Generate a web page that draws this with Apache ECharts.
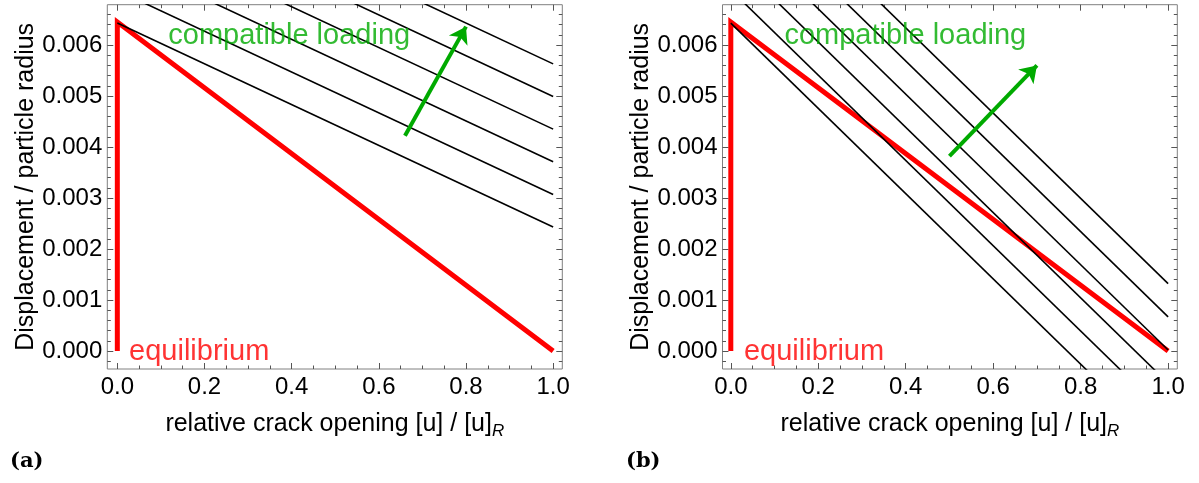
<!DOCTYPE html>
<html>
<head>
<meta charset="utf-8">
<script src="https://cdn.jsdelivr.net/npm/echarts@6/dist/echarts.min.js"></script>
<style>html,body{margin:0;padding:0;background:#fff;}#c{width:1199px;height:483px;}</style>
</head>
<body>
<div id="c"></div>
<script>
// ---- data ----
const xMajorTicks = [0, 0.2, 0.4, 0.6, 0.8, 1.0];
const xMinorTicks = [0.05, 0.1, 0.15, 0.25, 0.3, 0.35, 0.45, 0.5, 0.55, 0.65, 0.7, 0.75, 0.85, 0.9, 0.95];
const yMajorTicks = [0, 0.001, 0.002, 0.003, 0.004, 0.005, 0.006];
const yMinorTicks = [-0.0002, 0.0002, 0.0004, 0.0006, 0.0008, 0.0012, 0.0014, 0.0016, 0.0018,
  0.0022, 0.0024, 0.0026, 0.0028, 0.0032, 0.0034, 0.0036, 0.0038, 0.0042, 0.0044, 0.0046, 0.0048,
  0.0052, 0.0054, 0.0056, 0.0058, 0.0062, 0.0064, 0.0066];

const equilibriumX = [0, 0, 1];
const equilibriumY = [0, 0.00645, 0];

// loading lines: value at x=0 and x=1
const loadX = [0, 1];
const leftLoadStart = [0.00643, 0.00707, 0.00771, 0.00835, 0.00899, 0.00963];
const leftLoadEnd   = [0.00243, 0.00307, 0.00371, 0.00435, 0.00499, 0.00563];
const rightLoadStart = [0.00643, 0.00708, 0.00773, 0.00838, 0.00903, 0.00968];
const rightLoadEnd   = [-0.00193, -0.00128, -0.00063, 0.00002, 0.00067, 0.00132];

// arrows: [tail, tip]
const leftArrow = [[0.66, 0.00422], [0.80, 0.00636]];
const rightArrow = [[0.50, 0.00382], [0.70, 0.00560]];

// annotation anchors (left edge, vertical middle)
const leftNotes = [[0.117, 0.00618, 'compatible loading', '#00aa00'], [0.027, -0.00001, 'equilibrium', '#ff0000']];
const rightNotes = [[0.1225, 0.00618, 'compatible loading', '#00aa00'], [0.030, -0.00001, 'equilibrium', '#ff0000']];

const xTitle = '{a|relative crack opening [u] / [u]}{b|R}';
const yTitle = 'Displacement / particle radius';
const captions = ['(a)', '(b)'];

// ---- layout ----
const FONT = '"Liberation Sans", Arial, sans-serif';
const TICK = '#555';
const plots = [
  {grid: {left: 107.3, top: 4.7, width: 455, height: 364.3}, xmin: -0.023, xmax: 1.021,
   loadStart: leftLoadStart, loadEnd: leftLoadEnd, arrow: leftArrow, notes: leftNotes, cap: captions[0], capX: 10},
  {grid: {left: 722.5, top: 4.7, width: 454.8, height: 364.3}, xmin: -0.019, xmax: 1.021,
   loadStart: rightLoadStart, loadEnd: rightLoadEnd, arrow: rightArrow, notes: rightNotes, cap: captions[1], capX: 626}
];
const ymin = -0.000353, ymax = 0.00679;

const grids = [], xAxes = [], yAxes = [], series = [], graphics = [];

function mkAxis(gi, pos, min, max, ticks, len, labels, fmt, extra) {
  return Object.assign({
    type: 'value', gridIndex: gi, position: pos, min: min, max: max,
    axisLine: {show: false, onZero: false}, splitLine: {show: false},
    axisTick: {show: true, inside: true, length: len, customValues: ticks, lineStyle: {color: TICK, width: 1}},
    axisLabel: labels ? {show: true, customValues: ticks, formatter: fmt, color: '#000', fontFamily: FONT, fontSize: 24, margin: labels} : {show: false}
  }, extra || {});
}

plots.forEach((p, gi) => {
  grids.push(Object.assign({show: true, borderColor: '#808080', borderWidth: 1, backgroundColor: 'transparent'}, p.grid));
  const xBase = xAxes.length, yBase = yAxes.length;
  xAxes.push(mkAxis(gi, 'bottom', p.xmin, p.xmax, xMajorTicks, 6, 6, v => v.toFixed(1), {
    name: xTitle, nameLocation: 'middle', nameGap: 40,
    nameTextStyle: {color: '#000', fontFamily: FONT, fontSize: 25,
      rich: {a: {fontFamily: FONT, fontSize: 25, color: '#000'},
             b: {fontFamily: FONT, fontSize: 17, fontStyle: 'italic', color: '#000', padding: [14, 0, 0, 0]}}}
  }));
  xAxes.push(mkAxis(gi, 'bottom', p.xmin, p.xmax, xMinorTicks, 3.5, 0));
  xAxes.push(mkAxis(gi, 'top', p.xmin, p.xmax, xMajorTicks, 6, 0));
  xAxes.push(mkAxis(gi, 'top', p.xmin, p.xmax, xMinorTicks, 3.5, 0));
  yAxes.push(mkAxis(gi, 'left', ymin, ymax, yMajorTicks, 6, 5, v => v.toFixed(3), {
    name: yTitle, nameLocation: 'middle', nameGap: 64,
    nameTextStyle: {color: '#000', fontFamily: FONT, fontSize: 25}
  }));
  yAxes.push(mkAxis(gi, 'left', ymin, ymax, yMinorTicks, 3.5, 0));
  yAxes.push(mkAxis(gi, 'right', ymin, ymax, yMajorTicks, 6, 0));
  yAxes.push(mkAxis(gi, 'right', ymin, ymax, yMinorTicks, 3.5, 0));

  series.push({
    type: 'line', xAxisIndex: xBase, yAxisIndex: yBase, showSymbol: false, symbol: 'none',
    data: equilibriumX.map((x, i) => [x, equilibriumY[i]]),
    lineStyle: {color: '#ff0000', width: 5, cap: 'butt', join: 'miter'}, z: 2
  });
  p.loadStart.forEach((s, k) => {
    series.push({
      type: 'line', xAxisIndex: xBase, yAxisIndex: yBase, showSymbol: false, symbol: 'none', clip: true,
      data: [[loadX[0], s], [loadX[1], p.loadEnd[k]]],
      lineStyle: {color: '#000', width: 1.6}, z: 3
    });
  });
  series.push({
    type: 'lines', coordinateSystem: 'cartesian2d', xAxisIndex: xBase, yAxisIndex: yBase,
    symbol: ['none', 'arrow'], symbolSize: 16,
    lineStyle: {color: '#00aa00', width: 4, opacity: 1},
    itemStyle: {color: '#00aa00'},
    data: [{coords: p.arrow}], z: 4
  });
  series.push({
    type: 'scatter', xAxisIndex: xBase, yAxisIndex: yBase, symbolSize: 0, silent: true,
    data: p.notes.map(n => ({value: [n[0], n[1]], name: n[2],
      label: {color: n[3]}})),
    label: {show: true, position: 'right', distance: 0, formatter: d => d.name,
      fontFamily: FONT, fontSize: 29}, z: 5
  });
  graphics.push({type: 'text', left: p.capX, top: 451,
    style: {text: p.cap, font: 'bold 21px "DejaVu Serif", serif', fill: '#000'}});
});

const chart = echarts.init(document.getElementById('c'), null, {renderer: 'canvas'});
chart.setOption({
  animation: false,
  backgroundColor: '#fff',
  grid: grids, xAxis: xAxes, yAxis: yAxes, series: series, graphic: graphics
});
</script>
</body>
</html>
